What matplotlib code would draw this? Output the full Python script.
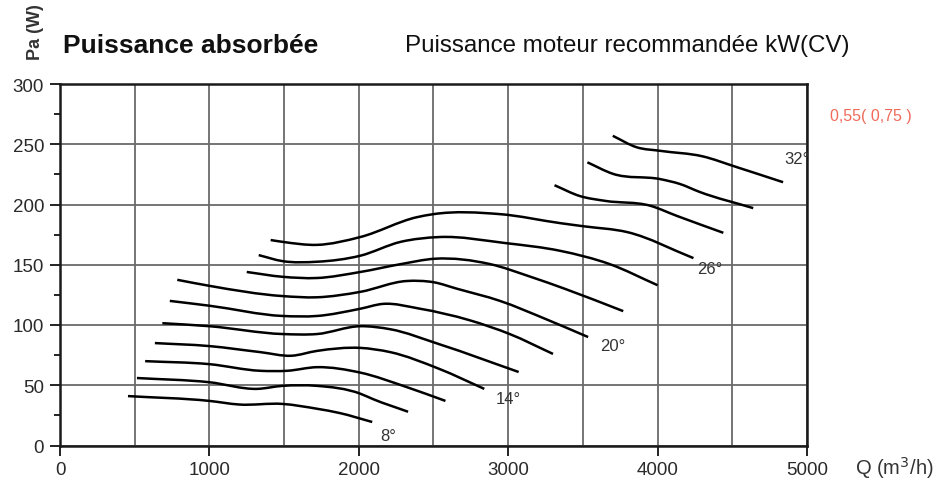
import numpy as np
import matplotlib
matplotlib.use("Agg")
import matplotlib.pyplot as plt
from matplotlib.path import Path
from matplotlib.patches import PathPatch

plt.rcParams['font.family'] = ['Liberation Sans', 'DejaVu Sans']

# absorbed power curves, one per blade angle: flow Q (m3/h) vs power Pa (W)
angles = [8, 10, 12, 14, 16, 18, 20, 22, 24, 26, 28, 30, 32]

q8 = [455, 1000, 1200, 1490, 1720, 1870, 2090]
pa8 = [41, 37, 34, 34.5, 30.5, 27, 19.5]
q10 = [515, 1000, 1320, 1490, 1720, 2010, 2095, 2330]
pa10 = [56, 52.5, 47, 49.5, 49.5, 43, 38.5, 28]
q12 = [570, 1000, 1340, 1520, 1720, 2010, 2320, 2580]
pa12 = [70, 67.5, 62, 62, 65, 60.5, 48.5, 37]
q14 = [635, 1000, 1340, 1550, 1720, 2010, 2210, 2540, 2840]
pa14 = [85, 82.5, 77.5, 74.5, 78.5, 81, 77.5, 63.5, 47]
q16 = [685, 1000, 1490, 1720, 2010, 2210, 2540, 3070]
pa16 = [101.5, 99, 92.5, 92.5, 99, 96.5, 84, 61]
q18 = [735, 1000, 1490, 1720, 2010, 2160, 2410, 2740, 3010, 3300]
pa18 = [120, 116, 107.5, 107.5, 113.5, 117.5, 113.5, 104, 92.5, 76]
q20 = [785, 1000, 1490, 1720, 2010, 2320, 2500, 2660, 2945, 3250, 3535]
pa20 = [137.5, 132.5, 124, 123, 127.5, 136.5, 135.5, 130, 120, 105, 90]
q22 = [1250, 1490, 1720, 2010, 2280, 2510, 2880, 3150, 3380, 3770]
pa22 = [144, 140, 139, 144, 150.5, 155, 150.5, 140, 130, 111.5]
q24 = [1330, 1490, 1720, 2010, 2280, 2540, 2980, 3350, 3680, 4000]
pa24 = [158, 153, 152.5, 157.5, 169, 173, 168, 161.5, 150.5, 133]
q26 = [1410, 1490, 1720, 2010, 2390, 2500, 2945, 3350, 3500, 3800, 4240]
pa26 = [170.5, 169, 166.5, 173, 189.5, 192, 192, 184.5, 182, 177, 155.5]
q28 = [3310, 3480, 3650, 3950, 4130, 4440]
pa28 = [216, 207, 203, 199, 190.5, 176.5]
q30 = [3530, 3700, 4020, 4150, 4280, 4640]
pa30 = [235, 225.5, 221, 217, 210.5, 197]
q32 = [3700, 3860, 4020, 4300, 4530, 4840]
pa32 = [257, 247.5, 244.5, 240, 231, 218.5]

curves = [(q8, pa8), (q10, pa10), (q12, pa12), (q14, pa14), (q16, pa16),
          (q18, pa18), (q20, pa20), (q22, pa22), (q24, pa24), (q26, pa26),
          (q28, pa28), (q30, pa30), (q32, pa32)]

# angles that carry a label, with where the label sits (Q, Pa)
label_angles = [8, 14, 20, 26, 32]
label_q = [2195, 2998, 3701, 4350, 4933]
label_pa = [8.7, 38.6, 82.6, 146.5, 237.8]

xticks = [0, 1000, 2000, 3000, 4000, 5000]
yticks = [0, 50, 100, 150, 200, 250, 300]


def smooth_path(xs, ys):
    # hermite curve through the points (slopes weighted by spacing),
    # written out as cubic bezier segments
    x = np.asarray(xs, float)
    y = np.asarray(ys, float)
    h = np.diff(x)
    s = np.diff(y) / h
    d = np.empty_like(x)
    d[0], d[-1] = s[0], s[-1]
    d[1:-1] = (h[:-1] * s[1:] + h[1:] * s[:-1]) / (h[:-1] + h[1:])
    verts = [(x[0], y[0])]
    codes = [Path.MOVETO]
    for i in range(len(x) - 1):
        verts += [(x[i] + h[i] / 3, y[i] + d[i] * h[i] / 3),
                  (x[i + 1] - h[i] / 3, y[i + 1] - d[i + 1] * h[i] / 3),
                  (x[i + 1], y[i + 1])]
        codes += [Path.CURVE4] * 3
    return Path(verts, codes)


fig = plt.figure(figsize=(9.44, 4.89), dpi=100)
ax = fig.add_axes([60 / 944, 1 - 446.5 / 489, 747 / 944, 361.5 / 489])

for q, pa in curves:
    ax.add_patch(PathPatch(smooth_path(q, pa), fill=False, edgecolor='black',
                           lw=1.8, capstyle='butt', zorder=3))

for a, lq, lp in zip(label_angles, label_q, label_pa):
    ax.text(lq, lp, f"{a}°", fontsize=12, color='#333333',
            ha='center', va='center', zorder=4)

ax.set_xlim(0, 5000)
ax.set_ylim(0, 300)
ax.set_xticks(xticks)
ax.set_xticks(np.arange(500, 5000, 1000), minor=True)
ax.set_yticks(yticks)
ax.set_yticks(np.arange(25, 300, 50), minor=True)
ax.tick_params(axis='both', which='major', direction='out', length=7.5,
               width=1.4, color='#222222', labelsize=13.5,
               labelcolor='#2a2a2a')
ax.tick_params(axis='x', which='major', pad=4)
ax.tick_params(axis='y', which='major', pad=4)
ax.tick_params(axis='x', which='minor', length=0)
ax.tick_params(axis='y', which='minor', direction='out', length=4,
               width=1.4, color='#222222')

ax.grid(True, which='both', axis='x', color='#6a6a6a', lw=1.3)
ax.grid(True, which='major', axis='y', color='#6a6a6a', lw=1.3)
ax.set_axisbelow(True)
for s in ax.spines.values():
    s.set_linewidth(1.8)
    s.set_color('#1a1a1a')

fig.text(36 / 944, 1 - 32 / 489, "Pa (W)", rotation=90, fontsize=13,
         fontweight='bold', color='#333333', ha='center', va='center')
fig.text(63 / 944, 1 - 46 / 489, "Puissance absorbée", fontsize=19,
         fontweight='bold', color='#111111', ha='left', va='center')
fig.text(405 / 944, 1 - 46 / 489, "Puissance moteur recommandée kW(CV)",
         fontsize=17.4, color='#111111', ha='left', va='center')
fig.text(830 / 944, 1 - 116 / 489, "0,55( 0,75 )", fontsize=11.5,
         color='#f06a5a', ha='left', va='center')
fig.text(855 / 944, 1 - 468 / 489, "Q (m$^3$/h)", fontsize=14.5,
         color='#333333', ha='left', va='center')

fig.savefig("out.png", dpi=100, facecolor='white')
